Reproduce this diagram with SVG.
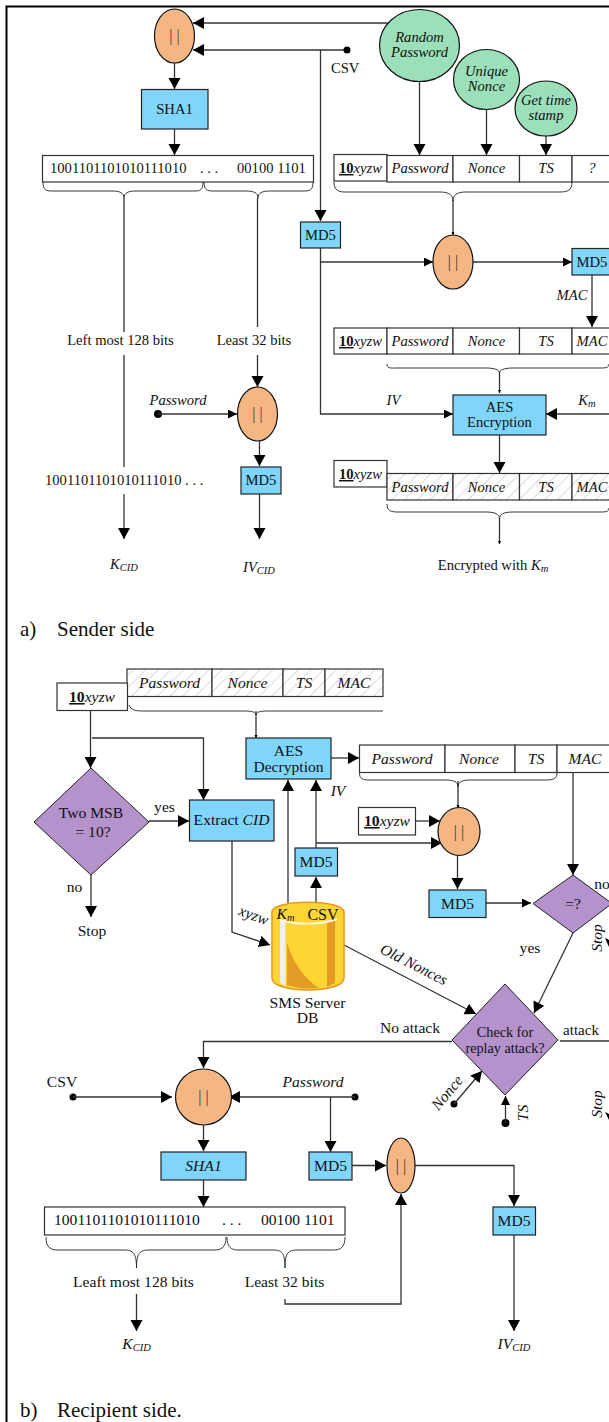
<svg xmlns="http://www.w3.org/2000/svg" width="609" height="1422" viewBox="0 0 609 1422">
<style>
text{font-family:"Liberation Serif","Times New Roman",serif;font-size:14.6px;fill:#111;text-anchor:middle}
.i{font-style:italic}
.l{text-anchor:start}
.big text{font-size:15.6px}
.cap,.big .cap{font-size:21px;text-anchor:start}
.sub{font-size:10.5px;font-style:italic}
text.bar{font-size:16px;fill:#4a3a2a}
.k{font-weight:bold;text-decoration:underline;font-style:normal}
.b{fill:#7fd6fa;stroke:#222;stroke-width:1.2}
.o{fill:#f4b784;stroke:#111;stroke-width:1.2}
.g{fill:#9be0b8;stroke:#111;stroke-width:1.2}
.p{fill:#b492cc;stroke:#222;stroke-width:1}
.w{fill:#fff;stroke:#333;stroke-width:1.2}
.h{fill:url(#hatch);stroke:#333;stroke-width:1.2}
.c{fill:none;stroke:#333;stroke-width:1.3}
.br{fill:none;stroke:#222;stroke-width:.9}
.L{marker-end:url(#aL)}
.M{marker-end:url(#aM)}
.S{marker-end:url(#aS)}
</style>
<defs>
<marker id="aL" markerUnits="userSpaceOnUse" markerWidth="13" markerHeight="13" refX="11" refY="6" orient="auto"><path d="M0 0L11 6L0 12Z" fill="#000"/></marker>
<marker id="aM" markerUnits="userSpaceOnUse" markerWidth="10" markerHeight="10" refX="9" refY="4.5" orient="auto"><path d="M0 0L9 4.5L0 9Z" fill="#000"/></marker>
<marker id="aS" markerUnits="userSpaceOnUse" markerWidth="4" markerHeight="4" refX="3" refY="1.5" orient="auto"><path d="M0 0L3 1.5L0 3Z" fill="#000"/></marker>
<pattern id="hatch" width="9" height="9" patternUnits="userSpaceOnUse" patternTransform="rotate(45)"><rect width="9" height="9" fill="#fff"/><line x1="0" y1="0" x2="0" y2="9" stroke="#c4c4c4" stroke-width="1.2"/></pattern>
</defs>
<rect width="609" height="1422" fill="#fff"/>
<path id="frame" d="M609 6.500H6.500V1422" fill="none" stroke="#000" stroke-width="2"/>

<g id="connectors">
<path class="c L" d="M388 23H193"/>
<path class="c L" d="M347 50H193"/>
<path class="c L" d="M320.500 50V221"/>
<path class="c L" d="M174.500 63V89"/>
<path class="c L" d="M174.500 129V155"/>
<path class="c" d="M124 198V332M124 355V467"/>
<path class="c L" d="M124 494V539"/>
<path class="c" d="M257.500 198V327"/>
<path class="c L" d="M257.500 355V387"/>
<circle cx="158" cy="414" r="4" fill="#000"/>
<path class="c M" d="M158 414H237"/>
<path class="c L" d="M259.500 440V466"/>
<path class="c L" d="M259.500 494V539"/>
<circle cx="347" cy="50" r="3.500" fill="#000"/>
<path class="c L" d="M419.500 82V155"/>
<path class="c L" d="M486.500 109V155"/>
<path class="c L" d="M546 136V155"/>
<path class="c S" d="M453 200V235"/>
<path class="c M" d="M320.500 262H433"/>
<path class="c M" d="M473 262H572"/>
<path class="c L" d="M592 275V327"/>
<path class="c M" d="M320.500 248V414H453"/>
<path class="c L" d="M609 414H546"/>
<path class="c S" d="M499.500 372V393"/>
<path class="c L" d="M499.500 435V473"/>
<path class="c S" d="M499.500 518V544"/>

<path class="c L" d="M90.500 710V768"/>
<path class="c L" d="M92 738H203.500V800"/>
<path class="c S" d="M256 711V738"/>
<path class="c L" d="M149 821H189"/>
<path class="c L" d="M91 875V917"/>
<path class="c L" d="M232 841V932L270 945"/>
<path class="c L" d="M288 903V780"/>
<path class="c L" d="M316 903V877"/>
<path class="c L" d="M316 848V780"/>
<path class="c L" d="M316 843H442"/>
<path class="c L" d="M331 758H359"/>
<path class="c S" d="M458 781V808"/>
<path class="c L" d="M415.500 821H440"/>
<path class="c L" d="M457.500 855V889"/>
<path class="c M" d="M486 903H531"/>
<path class="c L" d="M573 772.500V875"/>
<path class="c L" d="M573 933L534 1013"/>
<path class="c L" d="M344 945L476 1014"/>
<path class="c" d="M560 1041H609"/>
<path class="c L" d="M452 1041.500H203.500V1068"/>
<circle cx="454" cy="1104" r="3.500" fill="#000"/>
<path class="c L" d="M454 1104L482 1071"/>
<circle cx="505.500" cy="1123" r="4" fill="#000"/>
<path class="c M" d="M505.500 1123V1096"/>
<circle cx="73" cy="1097" r="3.500" fill="#000"/>
<path class="c L" d="M73 1097H172"/>
<circle cx="355" cy="1097" r="3.500" fill="#000"/>
<path class="c L" d="M355 1097H229"/>
<path class="c L" d="M330.500 1097V1152"/>
<path class="c L" d="M352 1165.500H386"/>
<path class="c L" d="M415 1165.500H514V1206"/>
<path class="c L" d="M514 1235V1331"/>
<path class="c L" d="M203.500 1125V1151"/>
<path class="c L" d="M203.500 1180V1207"/>
<path class="c L" d="M136.500 1294V1331"/>
<path class="c L" d="M285 1299V1304H401V1194"/>
<path d="M605 938L609 940V947Z" fill="#000"/>
<path d="M605 1112L609 1114V1120Z" fill="#000"/>

<g id="braces">
<path class="br" d="M43 182C43 190 46 191 52 191H112C120 191 124 193 124 198C124 193 128 191 136 191H195C200 191 203 190 203 182"/>
<path class="br" d="M204 182C204 190 207 191 213 191H246C254 191 258 193 258 198C258 193 262 191 270 191H304C310 191 313 190 313 182"/>
<path class="br" d="M334 182C334 190 338 192 345 192H440C449 192 453 195 453 201C453 195 457 192 466 192H560C568 192 572 190 572 182"/>
<path class="br" d="M387 364C387 369 391 368 398 368H486C495 368 499.500 370 499.500 373C499.500 370 504 368 513 368H600C605 368 609 368 609 364"/>
<path class="br" d="M387 504C387 511 391 512 398 512H486C495 512 499.500 514 499.500 519C499.500 514 504 512 513 512H600C605 512 609 512 609 508"/>
<path class="br" d="M129 705C131 710 135 711 143 711H244C252 711 256 712 256 715C256 712 260 711 268 711H383"/>
<path class="br" d="M359.500 773C359.500 779 363 780 370 780H446C454 780 458 782 458 787C458 782 462 780 470 780H546C553 780 557 779 557 773"/>
<path class="br" d="M46 1237C46 1247 50 1250 58 1250H124C133 1250 136.500 1253 136.500 1268C136.500 1253 140 1250 149 1250H214C222 1250 226 1247 226 1237"/>
<path class="br" d="M227 1237C227 1247 231 1250 238 1250H273C282 1250 285 1253 285 1268C285 1253 288 1250 297 1250H333C341 1250 345 1247 345 1237"/>
</g>
</g>

<g id="or-top"><ellipse class="o" cx="174.500" cy="36" rx="20" ry="27"/><text class="bar" x="174.500" y="41">| |</text></g>
<g id="sha1-top"><rect class="b" x="141.500" y="89.500" width="66.500" height="39.500"/><text x="174.500" y="114">SHA1</text></g>
<g id="bits-top"><rect class="w" x="42.500" y="155.500" width="271" height="26.500"/><text class="l" x="50" y="173">1001101101010111010</text><text class="l" x="200" y="173">. . .</text><text class="l" x="237" y="173">00100 1101</text></g>
<g id="random-password"><ellipse class="g" cx="419.500" cy="45.500" rx="40" ry="36"/><text class="i" x="419.500" y="42">Random</text><text class="i" x="419.500" y="57">Password</text></g>
<g id="unique-nonce"><ellipse class="g" cx="486.500" cy="79.500" rx="33" ry="30"/><text class="i" x="486.500" y="76">Unique</text><text class="i" x="486.500" y="91">Nonce</text></g>
<g id="timestamp"><ellipse class="g" cx="546" cy="108.500" rx="31" ry="27.500"/><text class="i" x="546" y="105">Get time</text><text class="i" x="546" y="120">stamp</text></g>
<g id="row1">
<rect class="w" x="334" y="154.500" width="53" height="26.500"/><text x="360.500" y="173"><tspan class="k">10</tspan><tspan class="i">xyzw</tspan></text>
<rect class="w" x="387" y="155.500" width="66" height="26.500"/><text class="i" x="420" y="173">Password</text>
<rect class="w" x="453" y="155.500" width="66.500" height="26.500"/><text class="i" x="486.500" y="173">Nonce</text>
<rect class="w" x="519.500" y="155.500" width="52.500" height="26.500"/><text class="i" x="546" y="173">TS</text>
<rect class="w" x="572" y="155.500" width="40" height="26.500"/><text class="i" x="592" y="173">?</text>
</g>
<g id="or-mid"><ellipse class="o" cx="453" cy="262" rx="20" ry="27"/><text class="bar" x="453" y="267">| |</text></g>
<g id="md5-iv"><rect class="b" x="300.500" y="222" width="40" height="26"/><text x="320.500" y="240">MD5</text></g>
<g id="md5-mac"><rect class="b" x="572" y="248.500" width="40" height="26.500"/><text x="592" y="267">MD5</text></g>
<g id="row2">
<rect class="w" x="334" y="328" width="53" height="26"/><text x="360.500" y="346"><tspan class="k">10</tspan><tspan class="i">xyzw</tspan></text>
<rect class="w" x="387" y="328" width="66" height="26"/><text class="i" x="420" y="346">Password</text>
<rect class="w" x="453" y="328" width="66.500" height="26"/><text class="i" x="486.500" y="346">Nonce</text>
<rect class="w" x="519.500" y="328" width="52.500" height="26"/><text class="i" x="546" y="346">TS</text>
<rect class="w" x="572" y="328" width="40" height="26"/><text class="i" x="592" y="346">MAC</text>
</g>
<g id="aes-enc"><rect class="b" x="453" y="395" width="93" height="40"/><text x="499.500" y="412">AES</text><text x="499.500" y="426.500">Encryption</text></g>
<g id="row3">
<rect class="w" x="334" y="460.500" width="53" height="26.500"/><text x="360.500" y="479"><tspan class="k">10</tspan><tspan class="i">xyzw</tspan></text>
<rect class="h" x="387" y="473.500" width="66" height="26.500"/><text class="i" x="420" y="491.500">Password</text>
<rect class="h" x="453" y="473.500" width="66.500" height="26.500"/><text class="i" x="486.500" y="491.500">Nonce</text>
<rect class="h" x="519.500" y="473.500" width="52.500" height="26.500"/><text class="i" x="546" y="491.500">TS</text>
<rect class="h" x="572" y="473.500" width="40" height="26.500"/><text class="i" x="592" y="491.500">MAC</text>
</g>
<g id="or-iv"><ellipse class="o" cx="257.500" cy="414" rx="20" ry="27"/><text class="bar" x="257.500" y="419">| |</text></g>
<g id="md5-ivcid"><rect class="b" x="241" y="467" width="40" height="27"/><text x="261" y="485">MD5</text></g>

<g id="labels-a">
<text x="331" y="73" class="l">CSV</text>
<text x="120.500" y="345">Left most 128 bits</text>
<text x="254" y="345">Least 32 bits</text>
<text class="i" x="178" y="405">Password</text>
<text class="l" x="45" y="485">1001101101010111010 . . .</text>
<text x="124" y="569" class="i">K<tspan class="sub" dy="2">CID</tspan></text>
<text x="259" y="572" class="i">IV<tspan class="sub" dy="2">CID</tspan></text>
<text class="i" x="572" y="300">MAC</text>
<text class="i" x="393.500" y="405">IV</text>
<text class="i" x="587" y="405">K<tspan class="sub" dy="2">m</tspan></text>
<text x="493" y="570">Encrypted with <tspan class="i">K</tspan><tspan class="sub" dy="2">m</tspan></text>
<text class="cap" x="20" y="636">a)</text><text class="cap" x="57" y="636">Sender side</text>
</g>

<g class="big">
<g id="row4">
<rect class="h" x="127" y="669" width="85" height="27.500"/><text class="i" x="169.500" y="688">Password</text>
<rect class="h" x="212" y="669" width="71" height="27.500"/><text class="i" x="247.500" y="688">Nonce</text>
<rect class="h" x="283" y="669" width="42" height="27.500"/><text class="i" x="304" y="688">TS</text>
<rect class="h" x="325" y="669" width="58" height="27.500"/><text class="i" x="354" y="688">MAC</text>
<rect class="w" x="57" y="683" width="70.500" height="27.500"/><text x="92" y="702"><tspan class="k">10</tspan><tspan class="i">xyzw</tspan></text>
</g>
<g id="two-msb"><path class="p" d="M34 822L91 768L149 822L91 875Z"/><text x="91" y="817.500">Two MSB</text><text x="93" y="837">= 10?</text></g>
<g id="extract-cid"><rect class="b" x="189.500" y="800" width="84.500" height="41"/><text x="231.500" y="825">Extract <tspan class="i">CID</tspan></text></g>
<g id="aes-dec"><rect class="b" x="246" y="738" width="85" height="41"/><text x="288.500" y="755.500">AES</text><text x="288.500" y="771.500">Decryption</text></g>
<g id="md5-csv"><rect class="b" x="295" y="848" width="42.500" height="28"/><text x="316" y="866.500">MD5</text></g>
<g id="row5">
<rect class="w" x="359.500" y="745" width="85.500" height="27.500"/><text class="i" x="402" y="764">Password</text>
<rect class="w" x="445" y="745" width="70" height="27.500"/><text class="i" x="479" y="764">Nonce</text>
<rect class="w" x="515" y="745" width="42" height="27.500"/><text class="i" x="536" y="764">TS</text>
<rect class="w" x="557" y="745" width="58" height="27.500"/><text class="i" x="585" y="764">MAC</text>
</g>
<g id="xyzw-box"><rect class="w" x="358.500" y="807.500" width="57" height="27.500"/><text x="387" y="826"><tspan class="k">10</tspan><tspan class="i">xyzw</tspan></text></g>
<g id="or-recv"><ellipse class="o" cx="459" cy="831.500" rx="21" ry="24"/><text class="bar" x="459" y="836.500">| |</text></g>
<g id="md5-recv"><rect class="b" x="429" y="890" width="57" height="27.500"/><text x="457.500" y="908.500">MD5</text></g>
<g id="eq"><path class="p" d="M533 903.500L573 875L612 903.500L573 933Z"/><text x="573" y="909">=?</text></g>
<g id="db">
<path d="M272 912C272 899 344 899 344 912V978C344 994 272 994 272 978Z" fill="#ffd536" stroke="#e8951c" stroke-width="1.500"/>
<path d="M287 943C293 962 304 979 319 988C306 989 296 988 287 985Z" fill="#e39b24"/>
<path d="M327 923L335 920V983L327 987Z" fill="#e39b24"/>
<path d="M280 920H285.500V986L280 983Z" fill="#efefef"/>
<path d="M280 920C296 925 320 925 337 919" fill="none" stroke="#fff7d8" stroke-width="2"/>
<text class="i" x="285.500" y="919">K<tspan class="sub" dy="2">m</tspan></text>
<text x="323" y="920" style="font-size:16px">CSV</text>
<text x="307.500" y="1008">SMS Server</text><text x="307.500" y="1023">DB</text>
</g>
<g id="replay"><path class="p" d="M452 1040L505 984L558 1040L505 1095Z"/><text x="505" y="1037" style="font-size:14.200px">Check for</text><text x="505" y="1053" style="font-size:14.200px">replay attack?</text></g>
<g id="or-csv"><circle class="o" cx="203.500" cy="1097" r="28"/><text class="bar" x="203.500" y="1102">| |</text></g>
<g id="sha1-recv"><rect class="b" x="161" y="1152" width="85" height="28"/><text class="i" x="203.500" y="1170.500">SHA1</text></g>
<g id="md5-pw"><rect class="b" x="309" y="1152" width="43" height="28"/><text x="330.500" y="1170.500">MD5</text></g>
<g id="or-iv2"><ellipse class="o" cx="401" cy="1165.500" rx="14" ry="27.500"/><text class="bar" x="401" y="1170.500">| |</text></g>
<g id="md5-iv2"><rect class="b" x="493" y="1207" width="42.500" height="28"/><text x="514" y="1225.500">MD5</text></g>
<g id="bits-recv"><rect class="w" x="44.500" y="1207" width="300.500" height="28"/><text class="l" x="54" y="1225">1001101101010111010</text><text class="l" x="222" y="1225">. . .</text><text class="l" x="261" y="1225">00100 1101</text></g>

<g id="labels-b">
<text x="164.500" y="812">yes</text>
<text x="74.500" y="892">no</text>
<text x="92" y="936">Stop</text>
<text class="i" x="338" y="796">IV</text>
<text class="i" transform="translate(252 920) rotate(20)">xyzw</text>
<text class="i" transform="translate(411.500 969) rotate(27)">Old Nonces</text>
<text x="602" y="889">no</text>
<text class="i" transform="translate(602 938) rotate(-90)">Stop</text>
<text x="530" y="953">yes</text>
<text x="410" y="1033">No attack</text>
<text x="581" y="1035" style="font-size:15px">attack</text>
<text class="i" transform="translate(602 1104) rotate(-90)">Stop</text>
<text class="i" transform="translate(451 1096) rotate(-50)">Nonce</text>
<text class="i" transform="translate(528 1113) rotate(-90)">TS</text>
<text x="62" y="1087">CSV</text>
<text class="i" x="313" y="1087">Password</text>
<text x="133.500" y="1287">Leaft most 128 bits</text>
<text x="284.500" y="1287">Least 32 bits</text>
<text class="i" x="136.500" y="1349">K<tspan class="sub" dy="2">CID</tspan></text>
<text class="i" x="514" y="1349">IV<tspan class="sub" dy="2">CID</tspan></text>
<text class="cap" x="20" y="1417">b)</text><text class="cap" x="57" y="1417">Recipient side.</text>
</g>
</g>
</svg>
